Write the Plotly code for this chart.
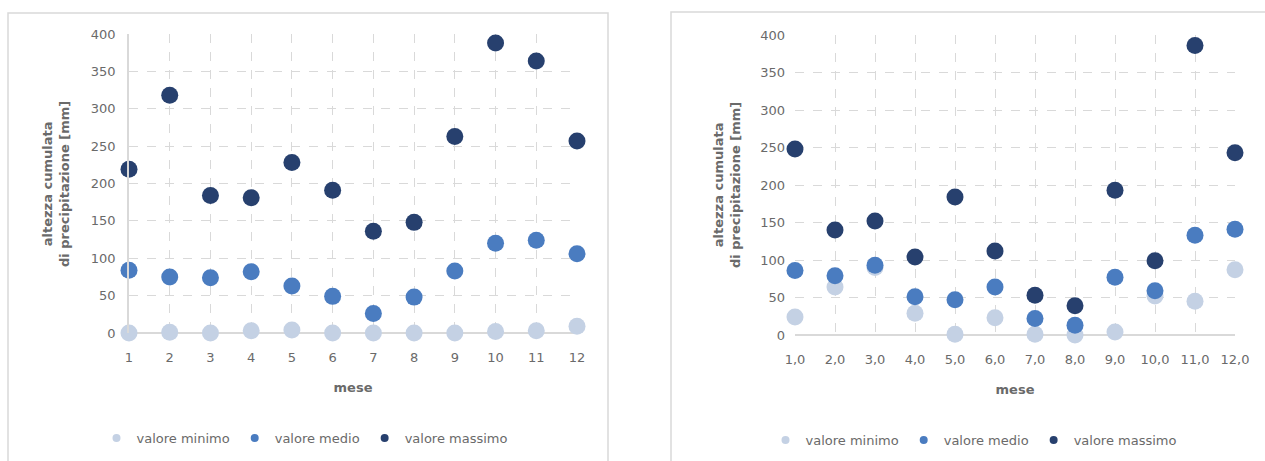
import plotly.graph_objects as go

# Monthly cumulative precipitation (mm): min / mean / max per month
mesi = list(range(1, 13))

# left panel
sx_minimo = [0, 1, 0, 3, 4, 0, 0, 0, 0, 2, 3, 9]
sx_medio = [84, 75, 74, 82, 63, 49, 26, 48, 83, 120, 124, 106]
sx_massimo = [219, 318, 184, 181, 228, 191, 136, 148, 263, 388, 364, 257]
sx_ticktext = [str(m) for m in mesi]

# right panel
dx_minimo = [24, 64, 90, 29, 1, 23, 1, 0, 4, 52, 45, 87]
dx_medio = [86, 79, 93, 51, 47, 64, 22, 13, 77, 59, 133, 141]
dx_massimo = [248, 140, 152, 104, 184, 112, 53, 39, 193, 99, 386, 243]
dx_ticktext = ["1,0", "2,0", "3,0", "4,0", "5,0", "6,0", "7,0", "8,0", "9,0", "10,0", "11,0", "12,0"]

y_ticks = [0, 50, 100, 150, 200, 250, 300, 350, 400]

serie = ["valore minimo", "valore medio", "valore massimo"]
colori = ["#c4d1e4", "#4a7cc0", "#27406e"]

W, H = 1265, 461
FONT = "DejaVu Sans, sans-serif"
GREY = "#6a6a6a"
GRID = "#d9d9d9"


def px_x(p):
    return p / W


def px_y(p):
    return 1 - p / H


fig = go.Figure()

panels = [
    dict(xa="x", ya="y", leg="legend", data=[sx_minimo, sx_medio, sx_massimo]),
    dict(xa="x2", ya="y2", leg="legend2", data=[dx_minimo, dx_medio, dx_massimo]),
]

for p in panels:
    for name, col, vals in zip(serie, colori, p["data"]):
        fig.add_trace(go.Scatter(
            x=mesi, y=vals, mode="markers", name=name,
            marker=dict(color=col, size=17, line=dict(width=0)),
            xaxis=p["xa"], yaxis=p["ya"], showlegend=False,
            cliponaxis=False, hoverinfo="x+y+name",
        ))
    # small legend symbols
    for name, col in zip(serie, colori):
        fig.add_trace(go.Scatter(
            x=[None], y=[None], mode="markers", name=name,
            marker=dict(color=col, size=8),
            xaxis=p["xa"], yaxis=p["ya"], legend=p["leg"], showlegend=True,
        ))

xcommon = dict(
    range=[1, 12], tickvals=mesi, showgrid=True, gridcolor=GRID, griddash="dash",
    gridwidth=1, zeroline=False, ticks="", ticklabelstandoff=15, automargin=False,
    tickfont=dict(family=FONT, size=13, color=GREY),
    title=dict(text="<b>mese</b>", font=dict(family=FONT, size=13, color=GREY), standoff=18),
    showline=False,
)
ycommon = dict(
    range=[0, 400], tickvals=y_ticks, showgrid=True, gridcolor=GRID, griddash="dash",
    gridwidth=1, zeroline=True, zerolinecolor=GRID, zerolinewidth=1.5, ticks="",
    ticklabelstandoff=9, automargin=False, tickfont=dict(family=FONT, size=13, color=GREY),
)

fig.update_layout(
    width=W, height=H, margin=dict(l=0, r=0, t=0, b=0),
    paper_bgcolor="white", plot_bgcolor="white",
    font=dict(family=FONT, color=GREY),
    xaxis=dict(domain=[px_x(129), px_x(577)], anchor="y", ticktext=sx_ticktext, **xcommon),
    yaxis=dict(domain=[px_y(333), px_y(34)], anchor="x", showline=True, linecolor=GRID,
               linewidth=1.5, **ycommon),
    xaxis2=dict(domain=[px_x(795), px_x(1235)], anchor="y2", ticktext=dx_ticktext, **xcommon),
    yaxis2=dict(domain=[px_y(335), px_y(35)], anchor="x2", showline=False, **ycommon),
    legend=dict(orientation="h", x=px_x(305), xanchor="center", y=px_y(438), yanchor="middle",
                font=dict(family=FONT, size=13, color=GREY), itemwidth=30,
                bgcolor="rgba(0,0,0,0)"),
    legend2=dict(orientation="h", x=px_x(974), xanchor="center", y=px_y(440), yanchor="middle",
                 font=dict(family=FONT, size=13, color=GREY), itemwidth=30,
                 bgcolor="rgba(0,0,0,0)"),
)

# chart-area frames
fig.add_shape(type="rect", xref="paper", yref="paper",
              x0=px_x(8), x1=px_x(608), y0=px_y(470), y1=px_y(13),
              line=dict(color="#d9d9d9", width=1.5), fillcolor="rgba(0,0,0,0)", layer="below")
fig.add_shape(type="rect", xref="paper", yref="paper",
              x0=px_x(671), x1=px_x(1290), y0=px_y(470), y1=px_y(12),
              line=dict(color="#d9d9d9", width=1.5), fillcolor="rgba(0,0,0,0)", layer="below")

# vertical axis titles
for xc, yc in [(56, 184), (727, 185)]:
    fig.add_annotation(
        xref="paper", yref="paper", x=px_x(xc), y=px_y(yc),
        text="<b>altezza cumulata<br>di precipitazione [mm]</b>", textangle=-90,
        showarrow=False, font=dict(family=FONT, size=13, color=GREY),
        xanchor="center", yanchor="middle",
    )

fig.write_html("out.html")
